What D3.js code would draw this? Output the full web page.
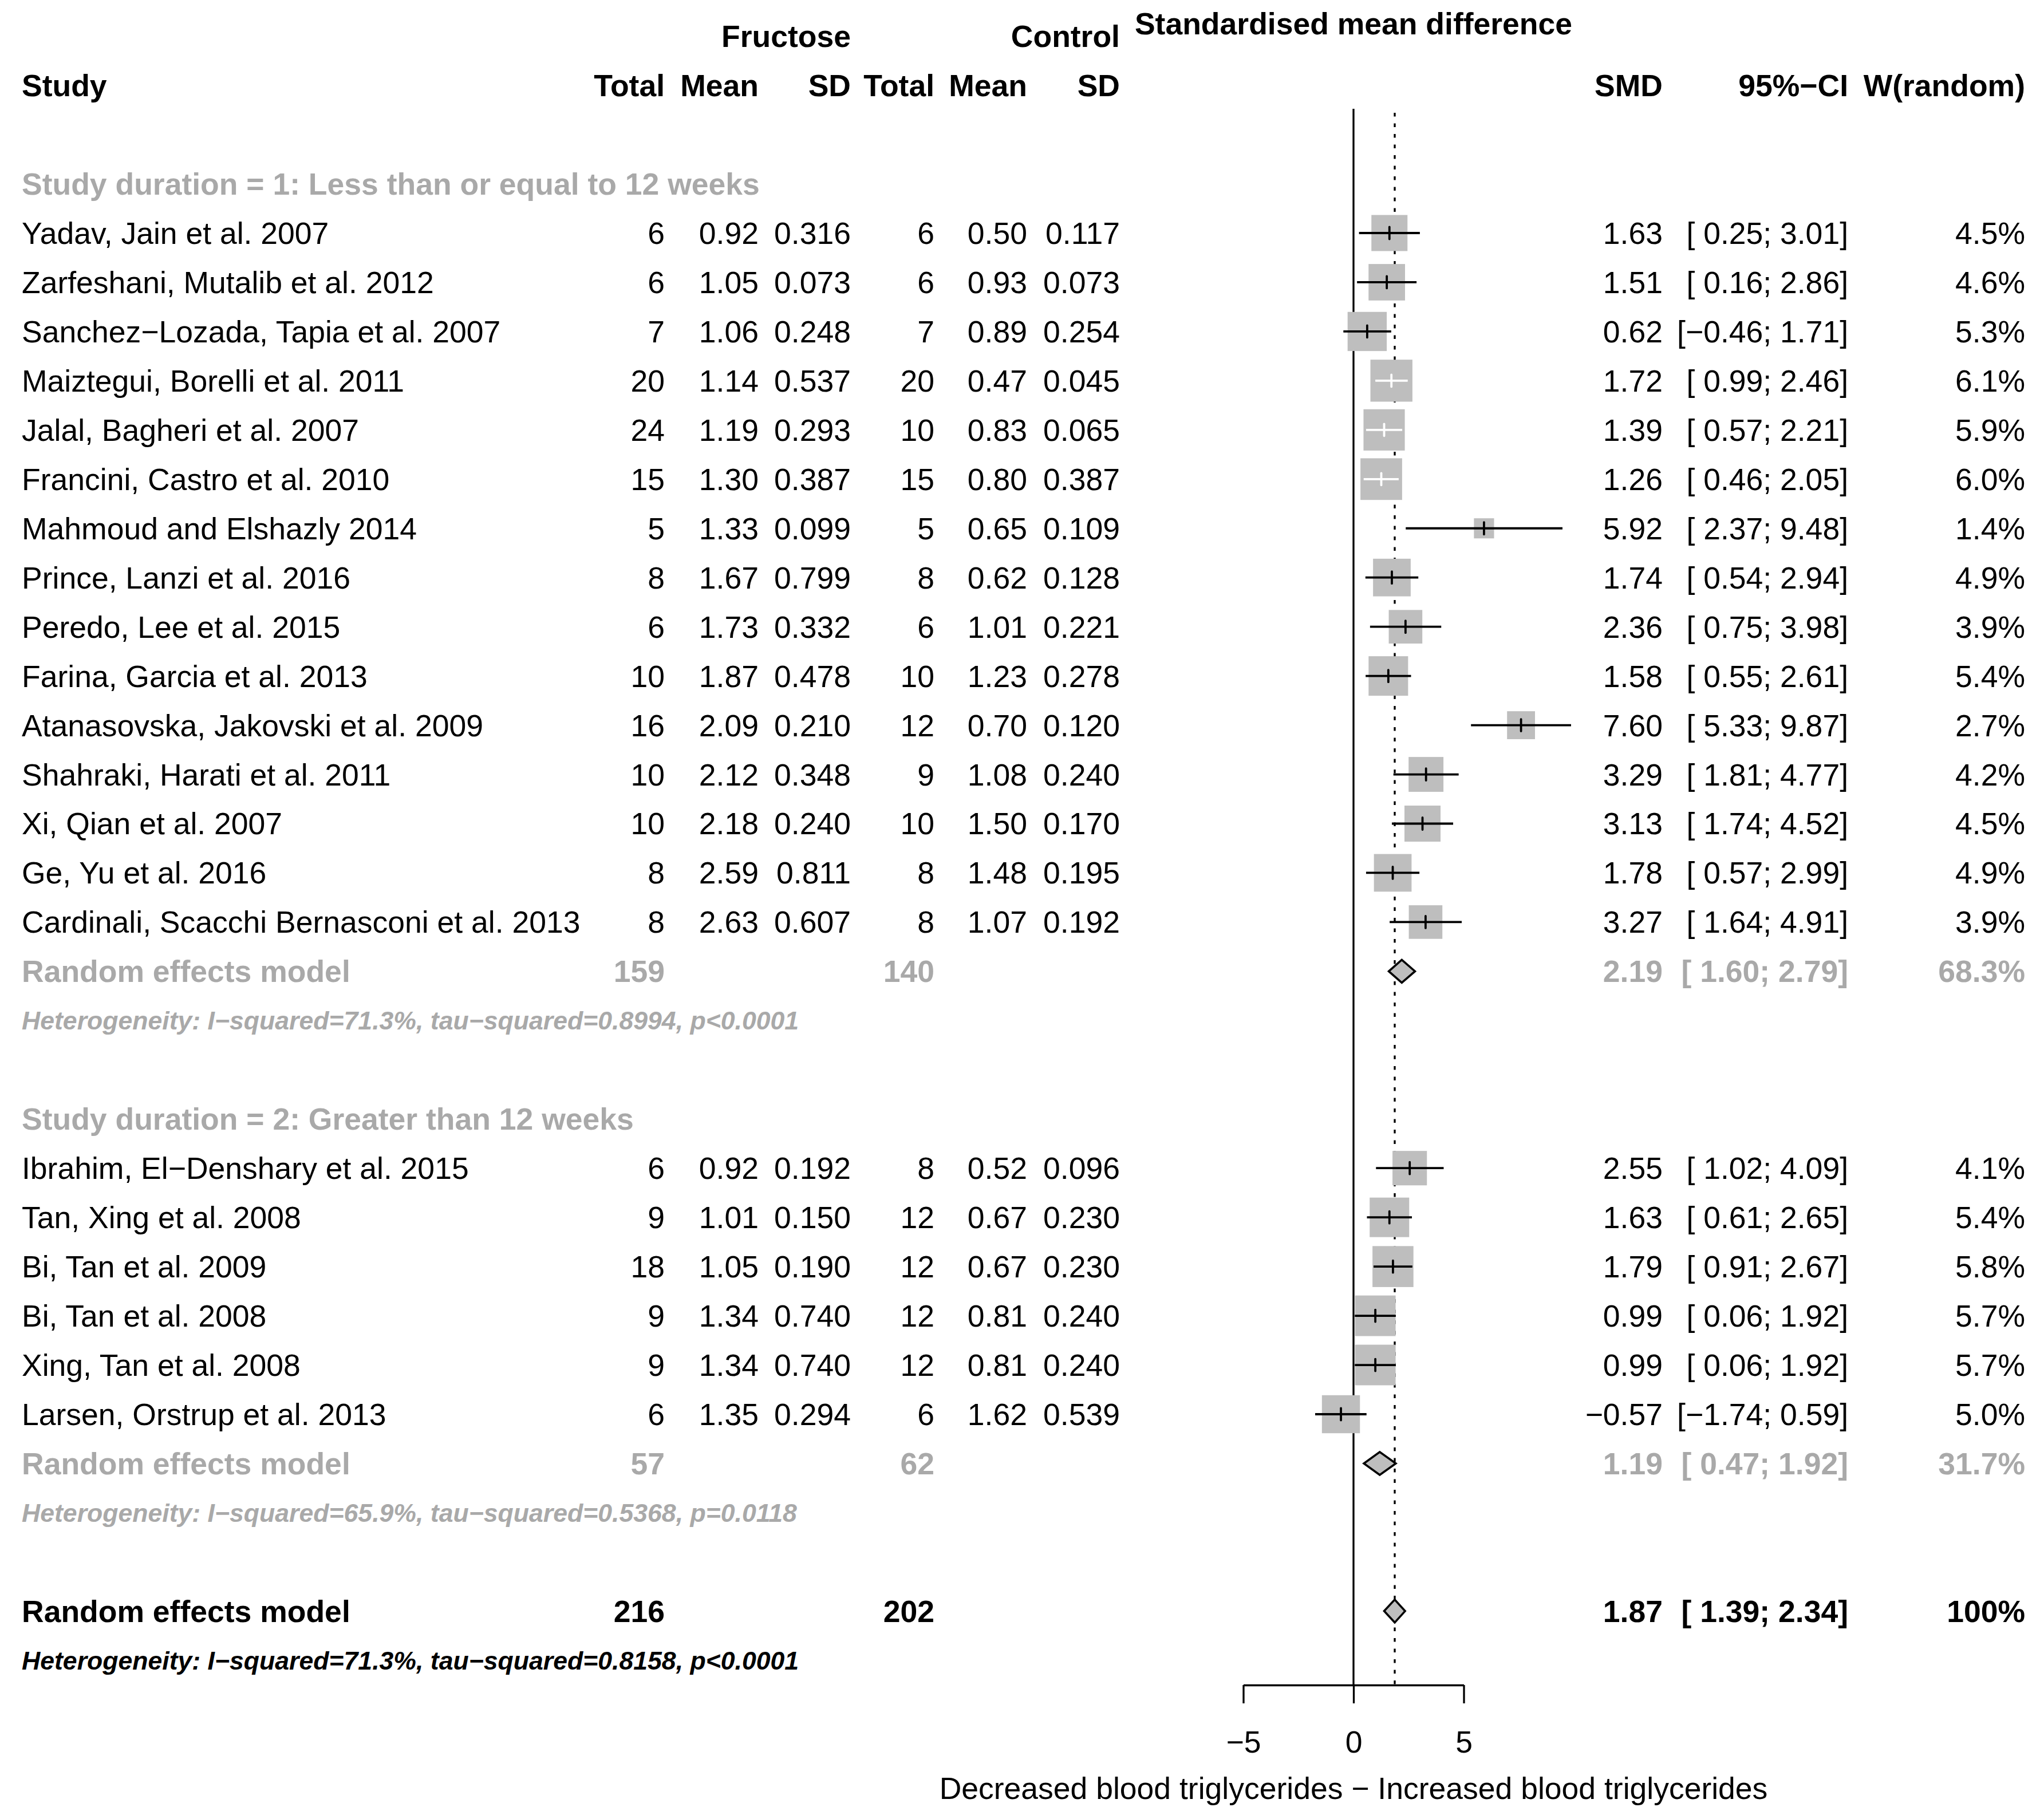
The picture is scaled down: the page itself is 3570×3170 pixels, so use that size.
<!DOCTYPE html>
<html>
<head>
<meta charset="utf-8">
<script src="https://cdn.jsdelivr.net/npm/d3@7"></script>
<style>
  html, body { margin: 0; padding: 0; background: #ffffff; }
  svg { display: block; font-family: "Liberation Sans", Arial, Helvetica, sans-serif; }
  text { white-space: pre; }
</style>
</head>
<body>
<svg id="chart" width="3570" height="3170"></svg>
<script>
// ---------------- DATA ----------------
const studyNames = [
  "Yadav, Jain et al. 2007",
  "Zarfeshani, Mutalib et al. 2012",
  "Sanchez\u2212Lozada, Tapia et al. 2007",
  "Maiztegui, Borelli et al. 2011",
  "Jalal, Bagheri et al. 2007",
  "Francini, Castro et al. 2010",
  "Mahmoud and Elshazly 2014",
  "Prince, Lanzi et al. 2016",
  "Peredo, Lee et al. 2015",
  "Farina, Garcia et al. 2013",
  "Atanasovska, Jakovski et al. 2009",
  "Shahraki, Harati et al. 2011",
  "Xi, Qian et al. 2007",
  "Ge, Yu et al. 2016",
  "Cardinali, Scacchi Bernasconi et al. 2013",
  "Ibrahim, El\u2212Denshary et al. 2015",
  "Tan, Xing et al. 2008",
  "Bi, Tan et al. 2009",
  "Bi, Tan et al. 2008",
  "Xing, Tan et al. 2008",
  "Larsen, Orstrup et al. 2013"
];
const studyGroup = [1,1,1,1,1,1,1,1,1,1,1,1,1,1,1, 2,2,2,2,2,2];
const fructTotal = [6,6,7,20,24,15,5,8,6,10,16,10,10,8,8, 6,9,18,9,9,6];
const fructMean  = [0.92,1.05,1.06,1.14,1.19,1.30,1.33,1.67,1.73,1.87,2.09,2.12,2.18,2.59,2.63, 0.92,1.01,1.05,1.34,1.34,1.35];
const fructSD    = [0.316,0.073,0.248,0.537,0.293,0.387,0.099,0.799,0.332,0.478,0.210,0.348,0.240,0.811,0.607, 0.192,0.150,0.190,0.740,0.740,0.294];
const ctrlTotal  = [6,6,7,20,10,15,5,8,6,10,12,9,10,8,8, 8,12,12,12,12,6];
const ctrlMean   = [0.50,0.93,0.89,0.47,0.83,0.80,0.65,0.62,1.01,1.23,0.70,1.08,1.50,1.48,1.07, 0.52,0.67,0.67,0.81,0.81,1.62];
const ctrlSD     = [0.117,0.073,0.254,0.045,0.065,0.387,0.109,0.128,0.221,0.278,0.120,0.240,0.170,0.195,0.192, 0.096,0.230,0.230,0.240,0.240,0.539];
const smd        = [1.63,1.51,0.62,1.72,1.39,1.26,5.92,1.74,2.36,1.58,7.60,3.29,3.13,1.78,3.27, 2.55,1.63,1.79,0.99,0.99,-0.57];
const ciLow      = [0.25,0.16,-0.46,0.99,0.57,0.46,2.37,0.54,0.75,0.55,5.33,1.81,1.74,0.57,1.64, 1.02,0.61,0.91,0.06,0.06,-1.74];
const ciHigh     = [3.01,2.86,1.71,2.46,2.21,2.05,9.48,2.94,3.98,2.61,9.87,4.77,4.52,2.99,4.91, 4.09,2.65,2.67,1.92,1.92,0.59];
const weightRandom = [4.5,4.6,5.3,6.1,5.9,6.0,1.4,4.9,3.9,5.4,2.7,4.2,4.5,4.9,3.9, 4.1,5.4,5.8,5.7,5.7,5.0];

const subgroupLabels = ["Study duration = 1: Less than or equal to 12 weeks", "Study duration = 2: Greater than 12 weeks"];
const summaryLabel = "Random effects model";
const summaryFructTotal = [159, 57, 216];
const summaryCtrlTotal  = [140, 62, 202];
const summarySMD  = [2.19, 1.19, 1.87];
const summaryLow  = [1.60, 0.47, 1.39];
const summaryHigh = [2.79, 1.92, 2.34];
const summaryWeight = ["68.3%", "31.7%", "100%"];
const hetTexts = [
  "Heterogeneity: I\u2212squared=71.3%, tau\u2212squared=0.8994, p<0.0001",
  "Heterogeneity: I\u2212squared=65.9%, tau\u2212squared=0.5368, p=0.0118",
  "Heterogeneity: I\u2212squared=71.3%, tau\u2212squared=0.8158, p<0.0001"
];
const xTicks = [-5, 0, 5];
const xLabel = "Decreased blood triglycerides \u2212 Increased blood triglycerides";
const topTitle = "Standardised mean difference";

// ---------------- LAYOUT ----------------
const svg = d3.select("#chart");
svg.append("rect").attr("width", 3570).attr("height", 3170).attr("fill", "#ffffff");

const FS = 53.5, FS_HET = 44.6;
const GRAY_TXT = "#a9a9a9", GRAY_BOX = "#bebebe";
const row = d3.scaleLinear().domain([3, 27]).range([407, 2470]);   // row index -> centre y
const base = r => row(r) + 0.355 * FS;                               // baseline for main text
const x = d3.scaleLinear().domain([-5, 5]).range([2171.5, 2556.5]); // SMD scale

const col = { study: 38, fT: 1161, fM: 1325, fS: 1486, cT: 1632, cM: 1794, cS: 1956, smd: 2904, ci: 3228, w: 3537 };

// row assignments
const studyRows = [];
{ let r1 = 3, r2 = 22; studyGroup.forEach(g => studyRows.push(g === 1 ? r1++ : r2++)); }
const groupHeaderRows = [2, 21];
const summaryRows = [18, 28, 31];
const hetRows = [19, 29, 32];

const f2 = d3.format(".2f"), f3 = d3.format(".3f"), f1 = d3.format(".1f");
const anyNegLow = ciLow.concat(summaryLow).some(v => v < 0);
const ciText = (lo, hi) => "[" + (lo < 0 ? f2(lo) : (anyNegLow ? " " : "") + f2(lo)) + "; " + f2(hi) + "]";

function txt(g, xPos, y, s, opts = {}) {
  return g.append("text")
    .attr("x", xPos).attr("y", y)
    .attr("text-anchor", opts.anchor || "start")
    .attr("font-size", opts.size || FS)
    .attr("font-weight", opts.bold ? "bold" : "normal")
    .attr("font-style", opts.italic ? "italic" : "normal")
    .attr("fill", opts.color || "#000")
    .text(s);
}

// ---------------- HEADERS ----------------
const hdr = svg.append("g");
txt(hdr, col.fS, base(-1), "Fructose", { anchor: "end", bold: true });
txt(hdr, col.cS, base(-1), "Control", { anchor: "end", bold: true });
txt(hdr, x(0), 60, topTitle, { anchor: "middle", bold: true });
txt(hdr, col.study, base(0), "Study", { bold: true });
[["fT","Total"],["fM","Mean"],["fS","SD"],["cT","Total"],["cM","Mean"],["cS","SD"],["smd","SMD"],["ci","95%\u2212CI"],["w","W(random)"]]
  .forEach(([k, s]) => txt(hdr, col[k], base(0), s, { anchor: "end", bold: true }));

// ---------------- REFERENCE LINES ----------------
const refs = svg.append("g");
const axisY = 2943;
refs.append("line").attr("x1", x(0)).attr("x2", x(0)).attr("y1", 190).attr("y2", axisY)
  .attr("stroke", "#000").attr("stroke-width", 3.3);
refs.append("line").attr("x1", x(summarySMD[2])).attr("x2", x(summarySMD[2])).attr("y1", 197).attr("y2", axisY)
  .attr("stroke", "#000").attr("stroke-width", 3.3).attr("stroke-dasharray", "6.5,12");

// ---------------- STUDY ROWS ----------------
const tbl = svg.append("g");
subgroupLabels.forEach((s, i) => txt(tbl, col.study, base(groupHeaderRows[i]), s, { bold: true, color: GRAY_TXT }));

studyNames.forEach((name, i) => {
  const y = base(studyRows[i]);
  txt(tbl, col.study, y, name);
  txt(tbl, col.fT, y, String(fructTotal[i]), { anchor: "end" });
  txt(tbl, col.fM, y, f2(fructMean[i]), { anchor: "end" });
  txt(tbl, col.fS, y, f3(fructSD[i]), { anchor: "end" });
  txt(tbl, col.cT, y, String(ctrlTotal[i]), { anchor: "end" });
  txt(tbl, col.cM, y, f2(ctrlMean[i]), { anchor: "end" });
  txt(tbl, col.cS, y, f3(ctrlSD[i]), { anchor: "end" });
  txt(tbl, col.smd, y, f2(smd[i]), { anchor: "end" });
  txt(tbl, col.ci, y, ciText(ciLow[i], ciHigh[i]), { anchor: "end" });
  txt(tbl, col.w, y, f1(weightRandom[i]) + "%", { anchor: "end" });
});

// summaries
summaryRows.forEach((r, i) => {
  const y = base(r);
  const c = i < 2 ? GRAY_TXT : "#000";
  txt(tbl, col.study, y, summaryLabel, { bold: true, color: c });
  txt(tbl, col.fT, y, String(summaryFructTotal[i]), { anchor: "end", bold: true, color: c });
  txt(tbl, col.cT, y, String(summaryCtrlTotal[i]), { anchor: "end", bold: true, color: c });
  txt(tbl, col.smd, y, f2(summarySMD[i]), { anchor: "end", bold: true, color: c });
  txt(tbl, col.ci, y, ciText(summaryLow[i], summaryHigh[i]), { anchor: "end", bold: true, color: c });
  txt(tbl, col.w, y, summaryWeight[i], { anchor: "end", bold: true, color: c });
});
hetRows.forEach((r, i) => {
  txt(tbl, col.study, row(r) + 0.355 * FS_HET, hetTexts[i],
      { size: FS_HET, bold: true, italic: true, color: i < 2 ? GRAY_TXT : "#000" });
});

// ---------------- FOREST MARKS ----------------
const marks = svg.append("g");
const side = w => 29.7 * Math.sqrt(w);
const studyData = studyNames.map((n, i) => ({ i, r: studyRows[i], est: smd[i], lo: ciLow[i], hi: ciHigh[i], w: weightRandom[i] }));
studyData.forEach(d => {
  const s = side(d.w) * 0.91, cx = x(d.est);
  d.inside = x(d.lo) >= cx - s / 2 && x(d.hi) <= cx + s / 2;
});
marks.selectAll("rect.box").data(studyData).join("rect").attr("class", "box")
  .attr("x", d => x(d.est) - side(d.w) / 2).attr("y", d => row(d.r) - side(d.w) / 2)
  .attr("width", d => side(d.w)).attr("height", d => side(d.w))
  .attr("fill", GRAY_BOX);
marks.selectAll("line.ci").data(studyData).join("line").attr("class", "ci")
  .attr("x1", d => x(d.lo)).attr("x2", d => x(d.hi))
  .attr("y1", d => row(d.r)).attr("y2", d => row(d.r))
  .attr("stroke", d => d.inside ? "#fff" : "#000").attr("stroke-width", 3.8);
marks.selectAll("line.pt").data(studyData).join("line").attr("class", "pt")
  .attr("x1", d => x(d.est)).attr("x2", d => x(d.est))
  .attr("y1", d => row(d.r) - 10.5).attr("y2", d => row(d.r) + 10.5)
  .attr("stroke", d => d.inside ? "#fff" : "#000").attr("stroke-width", 3.8).attr("stroke-linecap", "round");

const sumData = summaryRows.map((r, i) => ({ r, est: summarySMD[i], lo: summaryLow[i], hi: summaryHigh[i] }));
marks.selectAll("path.diamond").data(sumData).join("path").attr("class", "diamond")
  .attr("d", d => {
    const cy = row(d.r), h = 20;
    return d3.line()([[x(d.lo), cy], [x(d.est), cy - h], [x(d.hi), cy], [x(d.est), cy + h]]) + "Z";
  })
  .attr("fill", GRAY_BOX).attr("stroke", "#000").attr("stroke-width", 3.6).attr("stroke-linejoin", "miter");

// ---------------- AXIS ----------------
const axisG = svg.append("g").attr("transform", `translate(0,${axisY})`)
  .call(d3.axisBottom(x).tickValues(xTicks).tickSize(32).tickSizeOuter(0).tickPadding(48));
axisG.select(".domain").attr("stroke", "#000").attr("stroke-width", 3.3);
axisG.selectAll(".tick line").attr("stroke", "#000").attr("stroke-width", 3.3);
axisG.selectAll(".tick text").attr("font-size", FS).attr("font-family", "Liberation Sans, Arial, Helvetica, sans-serif").attr("fill", "#000");
txt(svg, x(0), 3142, xLabel, { anchor: "middle" });
</script>
</body>
</html>
